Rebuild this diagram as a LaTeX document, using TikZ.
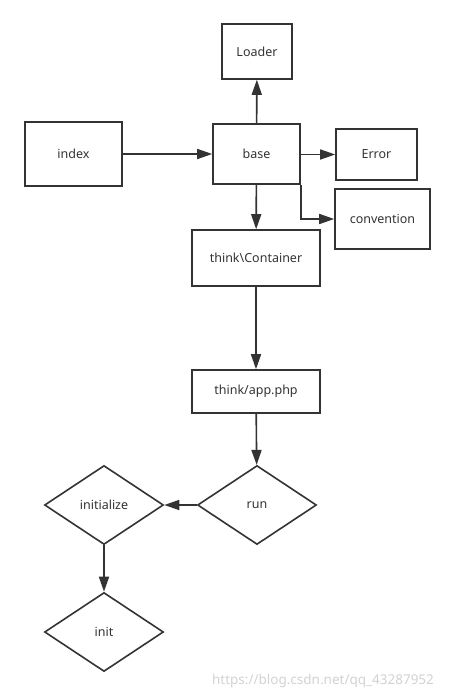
\documentclass[tikz,border=0pt]{standalone}
\usepackage{fontspec}
\setmainfont{Noto Sans}
\usepackage{tikz}
\usetikzlibrary{arrows.meta,shapes.geometric}
\definecolor{linegray}{HTML}{333333}

\begin{document}
\begin{tikzpicture}[x=1pt, y=-1pt,
        every node/.style = {draw=linegray, line width=1.6pt, text=linegray,
                             font=\fontsize{12.5}{15}\selectfont, inner sep=0pt},
        box/.style = {shape=rectangle},
        choice/.style = {shape=diamond, minimum width=119pt, minimum height=79pt},
        link/.style = {draw=linegray, line width=1.6pt,
                       -{Triangle[length=15pt,width=10pt]}}]
        \useasboundingbox (0,0) rectangle (454,698);
        % top row
        \node[box, minimum width=70pt, minimum height=55pt] (loader) at (257,51.5) {Loader};
        \node[box, minimum width=97pt, minimum height=64pt] (index) at (73.5,154) {index};
        \node[box, minimum width=87pt, minimum height=60pt] (base) at (256.5,154) {base};
        \node[box, minimum width=81pt, minimum height=51pt] (error) at (376.5,154.5) {Error};
        \node[box, minimum width=95pt, minimum height=60pt] (convention) at (382.5,219) {convention};
        % main chain
        \node[box, minimum width=128pt, minimum height=56pt] (container) at (256,258) {think\textbackslash Container};
        \node[box, minimum width=128pt, minimum height=43pt] (app) at (256,391.5) {think/app.php};
        \node[choice] (run) at (257,505) {run};
        \node[choice] (initialize) at (104,505) {initialize};
        \node[choice] (init) at (104,632) {init};
        \node[draw=none, text=gray!35, font=\fontsize{13.5}{16}\selectfont] (mark) at (323,681) {https://blog.csdn.net/qq\_43287952};

        \draw[link] (index) -- (base);
        \draw[link] (base) -- (loader);
        \draw[link] (base.east |- error.west) -- (error);
        \draw[link] (base.south east) |- (convention.west);
        \draw[link] (base) -- (container);
        \draw[link] (container) -- (app);
        \draw[link] (app) -- (run);
        \draw[link] (run) -- (initialize);
        \draw[link] (initialize) -- (init);
    \end{tikzpicture}
\end{document}
